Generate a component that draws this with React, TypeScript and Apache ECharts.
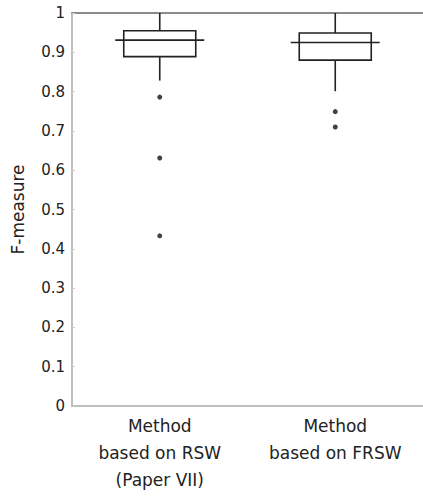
import React, { useEffect, useRef } from "react";
import * as echarts from "echarts";

const categories = ["Method\nbased on RSW\n(Paper VII)", "Method\nbased on FRSW"];
const lowerWhisker = [0.828, 0.801];
const q1 = [0.889, 0.88];
const median = [0.931, 0.925];
const q3 = [0.955, 0.949];
const upperWhisker = [1.0, 1.0];
const outliersRSW = [0.786, 0.631, 0.433];
const outliersFRSW = [0.749, 0.71];
const yTicks = [0, 0.1, 0.2, 0.3, 0.4, 0.5, 0.6, 0.7, 0.8, 0.9, 1];

const FONT = "DejaVu Sans";

export default function App() {
  const ref = useRef<HTMLDivElement>(null);
  useEffect(() => {
    document.body.style.margin = "0";
    const chart = echarts.init(ref.current!, null, { renderer: "svg" });
    const boxData = categories.map((_, i) => [i, lowerWhisker[i], q1[i], median[i], q3[i], upperWhisker[i]]);
    const outlierData: number[][] = [];
    outliersRSW.forEach((v) => outlierData.push([0, v]));
    outliersFRSW.forEach((v) => outlierData.push([1, v]));
    const BOX_W = 72;
    const MED_W = 89;
    const stroke = "#222";
    chart.setOption({
      animation: false,
      backgroundColor: "#fff",
      grid: { left: 72, top: 13, width: 356, height: 393, containLabel: false },
      xAxis: [
        {
          type: "category",
          data: categories,
          position: "bottom",
          axisLine: { lineStyle: { color: "#aaa", width: 1.5 } },
          axisTick: { inside: true, alignWithLabel: true, length: 3, lineStyle: { color: "#ccc" } },
          axisLabel: { color: "#222", fontSize: 17, fontFamily: FONT, lineHeight: 27, margin: 6 },
          splitLine: { show: false },
        },
        {
          type: "category",
          data: categories,
          position: "top",
          axisLine: { lineStyle: { color: "#666", width: 1.5 } },
          axisTick: { show: false },
          axisLabel: { show: false },
        },
      ],
      yAxis: [
        {
          type: "value",
          min: 0,
          max: 1,
          interval: 0.1,
          name: "F-measure",
          nameLocation: "middle",
          nameGap: 46,
          nameTextStyle: { color: "#222", fontSize: 17, fontFamily: FONT },
          axisLine: { show: true, lineStyle: { color: "#aaa", width: 1.5 } },
          axisTick: { show: true, inside: true, length: 3, lineStyle: { color: "#ccc" } },
          axisLabel: {
            color: "#222",
            fontSize: 15,
            fontFamily: FONT,
            margin: 7,
            formatter: (v: number) => {
              const t = yTicks.find((x) => Math.abs(x - v) < 1e-9);
              return t === undefined ? "" : String(t);
            },
          },
          splitLine: { show: false },
        },
      ],
      series: [
        {
          type: "custom",
          data: boxData,
          encode: { x: 0, y: [1, 2, 3, 4, 5] },
          renderItem: (params: any, api: any) => {
            const idx = api.value(0);
            const pMin = api.coord([idx, api.value(1)]);
            const pQ1 = api.coord([idx, api.value(2)]);
            const pMed = api.coord([idx, api.value(3)]);
            const pQ3 = api.coord([idx, api.value(4)]);
            const pMax = api.coord([idx, api.value(5)]);
            const cx = pMed[0];
            const ls = { stroke, lineWidth: 1.6, fill: "none" };
            return {
              type: "group",
              children: [
                { type: "line", shape: { x1: cx, y1: pMax[1], x2: cx, y2: pQ3[1] }, style: ls },
                { type: "line", shape: { x1: cx, y1: pQ1[1], x2: cx, y2: pMin[1] }, style: ls },
                {
                  type: "rect",
                  shape: { x: cx - BOX_W / 2, y: pQ3[1], width: BOX_W, height: pQ1[1] - pQ3[1] },
                  style: ls,
                },
                { type: "line", shape: { x1: cx - MED_W / 2, y1: pMed[1], x2: cx + MED_W / 2, y2: pMed[1] }, style: ls },
              ],
            };
          },
          z: 3,
        },
        {
          type: "scatter",
          data: outlierData,
          symbol: "circle",
          symbolSize: 5,
          itemStyle: { color: "#111" },
          z: 4,
        },
      ],
    });
    return () => chart.dispose();
  }, []);
  return <div ref={ref} style={{ width: 423, height: 496 }} />;
}
